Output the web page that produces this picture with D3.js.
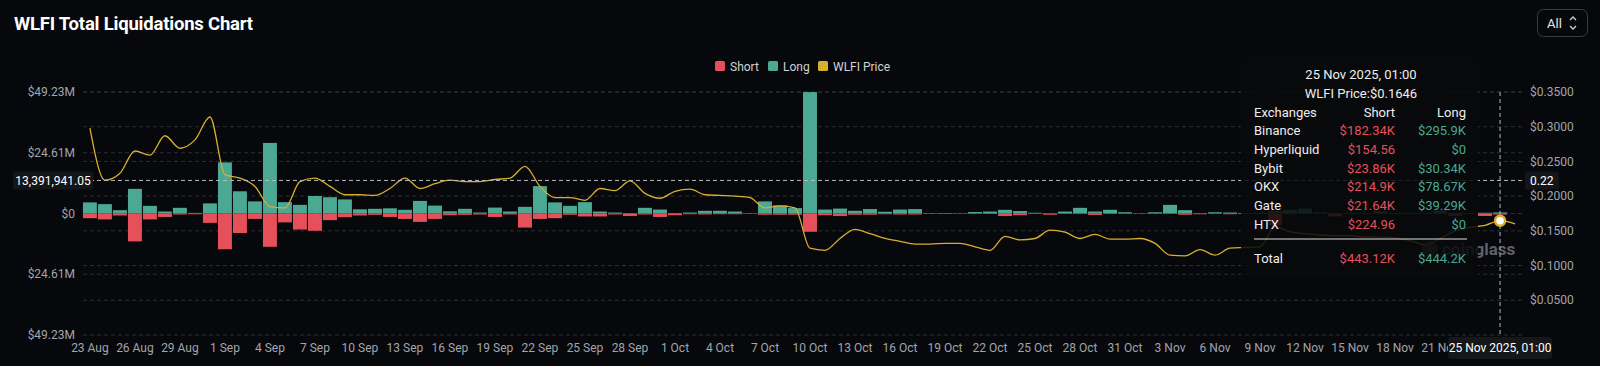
<!DOCTYPE html>
<html>
<head>
<meta charset="utf-8">
<script src="https://cdn.jsdelivr.net/npm/d3@7"></script>
<style>
  html, body { margin: 0; padding: 0; background: #07080b; }
  svg { display: block; font-family: Roboto, "Noto Sans", sans-serif; }
</style>
</head>
<body>
<div id="chart"></div>
<script>
// liquidations in $M, one bar per day from 23 Aug to 25 Nov 2025
var longVals = [4.5, 3.8, 1.35, 10.0, 3.1, 0.8, 2.3, 0.25, 4.1, 20.7,
  9.0, 4.9, 28.6, 4.6, 3.5, 7.1, 6.6, 5.7, 1.7, 1.9,
  2.1, 1.5, 5.1, 3.2, 0.9, 1.9, 0.4, 2.4, 0.8, 2.7,
  11.1, 4.5, 3.1, 4.6, 0.8, 0.4, 0.15, 2.3, 1.6, 0.2,
  0.4, 1.1, 1.1, 0.8, 0.15, 4.9, 3.3, 2.2, 49.2, 1.6,
  2.0, 1.1, 1.8, 0.7, 1.6, 1.8, 0.15, 0.2, 0.1, 0.6,
  0.8, 1.5, 1.0, 0.3, 0.1, 0.8, 2.3, 0.8, 1.5, 0.5,
  0.1, 0.5, 3.5, 1.35, 0.1, 0.5, 0.4, 0.2, 0.3, 1.1,
  1.5, 2.0, 0.4, 0.2, 0.3, 0.2, 0.9, 0.2, 0.3, 0.2,
  1.2, 0.3, 0.2, 0.3, 0.44];
var shortVals = [1.9, 2.4, 0.8, 11.3, 2.4, 1.4, 0.4, 0.3, 3.8, 14.5,
  7.9, 2.2, 13.5, 3.6, 6.5, 7.0, 2.7, 1.5, 0.8, 0.55,
  1.4, 2.2, 3.4, 2.2, 0.7, 0.55, 0.4, 1.4, 0.4, 5.7,
  2.2, 1.9, 0.5, 1.2, 1.2, 0.4, 1.0, 0.4, 1.4, 0.7,
  0.3, 0.4, 0.3, 0.3, 0.1, 0.5, 0.5, 0.5, 7.4, 0.7,
  1.0, 0.5, 0.5, 0.3, 0.4, 0.4, 0.1, 0.1, 0.1, 0.1,
  0.2, 1.0, 0.7, 0.1, 0.5, 0.1, 0.1, 0.6, 0.1, 0.1,
  0.1, 0.1, 0.1, 0.5, 0.3, 0.1, 0.3, 0.2, 0.2, 4.7,
  0.3, 0.1, 0.2, 1.2, 0.2, 0.1, 0.1, 0.2, 0.1, 0.2,
  0.1, 1.0, 0.2, 1.0, 0.44];
// WLFI price, one point per day (last point is 26 Nov)
var price = [0.298, 0.223, 0.233, 0.265, 0.259, 0.287, 0.269, 0.281, 0.314, 0.231,
  0.226, 0.214, 0.185, 0.183, 0.221, 0.226, 0.214, 0.202, 0.202, 0.201,
  0.211, 0.226, 0.211, 0.218, 0.223, 0.221, 0.221, 0.224, 0.226, 0.243,
  0.214, 0.198, 0.198, 0.194, 0.211, 0.208, 0.222, 0.204, 0.197, 0.207,
  0.210, 0.202, 0.201, 0.200, 0.198, 0.183, 0.186, 0.183, 0.125, 0.122,
  0.139, 0.152, 0.146, 0.139, 0.135, 0.131, 0.131, 0.132, 0.132, 0.127,
  0.122, 0.142, 0.137, 0.139, 0.151, 0.148, 0.139, 0.145, 0.138, 0.138,
  0.139, 0.132, 0.115, 0.114, 0.123, 0.115, 0.125, 0.126, 0.127, 0.156,
  0.149, 0.146, 0.144, 0.143, 0.143, 0.141, 0.141, 0.140, 0.136, 0.130,
  0.139, 0.150, 0.155, 0.158, 0.1646, 0.160];

var xTickLabels = ["23 Aug", "26 Aug", "29 Aug", "1 Sep", "4 Sep", "7 Sep", "10 Sep", "13 Sep",
  "16 Sep", "19 Sep", "22 Sep", "25 Sep", "28 Sep", "1 Oct", "4 Oct", "7 Oct", "10 Oct",
  "13 Oct", "16 Oct", "19 Oct", "22 Oct", "25 Oct", "28 Oct", "31 Oct", "3 Nov", "6 Nov",
  "9 Nov", "12 Nov", "15 Nov", "18 Nov", "21 Nov"];
var leftTicks = [-49.23, -24.61, 0, 24.61, 49.23];
var rightTicks = [0.05, 0.10, 0.15, 0.20, 0.25, 0.30, 0.35];

// tooltip content
var tipDate = "25 Nov 2025, 01:00";
var tipPrice = "WLFI Price:$0.1646";
var exchanges = ["Binance", "Hyperliquid", "Bybit", "OKX", "Gate", "HTX"];
var tipShort = ["$182.34K", "$154.56", "$23.86K", "$214.9K", "$21.64K", "$224.96"];
var tipLong = ["$295.9K", "$0", "$30.34K", "$78.67K", "$39.29K", "$0"];
var tipTotal = ["$443.12K", "$444.2K"];
var hoverIndex = 94;
var hoverPrice = 0.1646;
var crossLeft = 13.39194105;
var crossRight = 0.22;

var w = 1600, h = 366;
var red = "#e5505a", green = "#4aa893", gold = "#d8ae2f";

var svg = d3.select("#chart").append("svg").attr("width", w).attr("height", h);
svg.append("rect").attr("width", w).attr("height", h).attr("fill", "#07080b");

var n = longVals.length;
var x = d3.scaleBand().domain(d3.range(n)).range([82.5, 1507.5]).paddingInner(0.07).paddingOuter(0.03);
var bw = x.bandwidth();
var xc = d3.scaleLinear().domain([0, n - 1]).range([x(0) + bw / 2, x(n - 1) + bw / 2]);
var yL = d3.scaleLinear().domain([-49.23, 49.23]).range([335, 92]);
var yR = d3.scaleLinear().domain([0, 0.35]).range([335, 92]);
var gx0 = 83, gx1 = 1522;
var dateBoxX = xc(hoverIndex) - 52;

// title
svg.append("text").attr("x", 14).attr("y", 30).text("WLFI Total Liquidations Chart")
  .attr("fill", "#fff").attr("font-size", 18.5).attr("font-weight", 700).attr("letter-spacing", -0.2);

// "All" selector
var sel = svg.append("g");
sel.append("rect").attr("x", 1537.5).attr("y", 9.5).attr("width", 50).attr("height", 27).attr("rx", 6)
  .attr("fill", "none").attr("stroke", "#3a3c41");
sel.append("text").attr("x", 1547).attr("y", 28).text("All").attr("fill", "#e6e6e6").attr("font-size", 13);
sel.append("path").attr("d", "M1570,20 l3,-3 l3,3 M1570,26 l3,3 l3,-3")
  .attr("fill", "none").attr("stroke", "#cfcfcf").attr("stroke-width", 1.3);

// legend
var legend = [{ k: "Short", c: red, x: 715 }, { k: "Long", c: green, x: 768 }, { k: "WLFI Price", c: gold, x: 818 }];
var lg = svg.selectAll(".lg").data(legend).enter().append("g").attr("transform", function(d) { return "translate(" + d.x + ",61)"; });
lg.append("rect").attr("width", 10).attr("height", 10).attr("rx", 1.5).attr("fill", function(d) { return d.c; });
lg.append("text").attr("x", 15).attr("y", 9.5).text(function(d) { return d.k; })
  .attr("fill", "#d0d2d6").attr("font-size", 12);

// grid lines
var grid = svg.append("g").attr("stroke", "#2c2e33").attr("stroke-dasharray", "4,3");
grid.selectAll(".gl").data(leftTicks).enter().append("line")
  .attr("x1", gx0).attr("x2", gx1).attr("y1", function(d) { return yL(d); }).attr("y2", function(d) { return yL(d); });
grid.selectAll(".gr").data(rightTicks).enter().append("line")
  .attr("x1", gx0).attr("x2", gx1).attr("y1", function(d) { return yR(d); }).attr("y2", function(d) { return yR(d); });

// left axis labels
svg.selectAll(".ll").data(leftTicks).enter().append("text")
  .attr("x", 75).attr("y", function(d) { return yL(d); }).attr("dy", "0.35em")
  .attr("text-anchor", "end").attr("fill", "#a2a5ab").attr("font-size", 12)
  .text(function(d) { return d === 0 ? "$0" : "$" + Math.abs(d).toFixed(2) + "M"; });

// right axis labels
svg.selectAll(".rl").data(rightTicks).enter().append("text")
  .attr("x", 1530).attr("y", function(d) { return yR(d); }).attr("dy", "0.35em")
  .attr("fill", "#a2a5ab").attr("font-size", 12)
  .text(function(d) { return "$" + d.toFixed(4); });

// x labels, cut off where the hover date box starts
svg.append("clipPath").attr("id", "xclip").append("rect")
  .attr("x", 0).attr("y", 330).attr("width", dateBoxX).attr("height", 36);
svg.append("g").attr("clip-path", "url(#xclip)")
  .selectAll(".xl").data(xTickLabels).enter().append("text")
  .attr("x", function(d, i) { return xc(i * 3); }).attr("y", 352)
  .attr("text-anchor", "middle").attr("fill", "#a2a5ab").attr("font-size", 12)
  .text(function(d) { return d; });

// bars
svg.selectAll(".long").data(longVals).enter().append("rect")
  .attr("x", function(d, i) { return x(i); }).attr("width", bw)
  .attr("y", function(d) { return yL(d); }).attr("height", function(d) { return yL(0) - yL(d); })
  .attr("fill", green);
svg.selectAll(".short").data(shortVals).enter().append("rect")
  .attr("x", function(d, i) { return x(i); }).attr("width", bw)
  .attr("y", yL(0)).attr("height", function(d) { return yL(0) - yL(d); })
  .attr("fill", red);

// price line
var line = d3.line().x(function(d, i) { return xc(i); }).y(function(d) { return yR(d); }).curve(d3.curveMonotoneX);
svg.append("path").datum(price).attr("d", line).attr("fill", "none")
  .attr("stroke", gold).attr("stroke-width", 1.3);

// crosshair
var cross = svg.append("g").attr("stroke", "#b8babe").attr("stroke-dasharray", "4,3");
cross.append("line").attr("x1", gx0).attr("x2", gx1).attr("y1", yL(crossLeft)).attr("y2", yL(crossLeft));
cross.append("line").attr("x1", xc(hoverIndex)).attr("x2", xc(hoverIndex)).attr("y1", yR(0.35)).attr("y2", yR(0));

svg.append("rect").attr("x", 13).attr("y", yL(crossLeft) - 9).attr("width", 80).attr("height", 18).attr("rx", 2).attr("fill", "#141519");
svg.append("text").attr("x", 53).attr("y", yL(crossLeft)).attr("dy", "0.35em").attr("text-anchor", "middle")
  .attr("fill", "#fff").attr("font-size", 12).text(d3.format(",.2f")(crossLeft * 1e6));
svg.append("rect").attr("x", 1525).attr("y", yL(crossLeft) - 9).attr("width", 34).attr("height", 18).attr("rx", 2).attr("fill", "#141519");
svg.append("text").attr("x", 1530).attr("y", yL(crossLeft)).attr("dy", "0.35em")
  .attr("fill", "#fff").attr("font-size", 12).text(crossRight.toFixed(2));

// hovered point
svg.append("circle").attr("cx", xc(hoverIndex)).attr("cy", yR(hoverPrice)).attr("r", 5)
  .attr("fill", "#fff").attr("stroke", gold).attr("stroke-width", 2.5);

// bottom date label
svg.append("rect").attr("x", dateBoxX).attr("y", 337).attr("width", 104).attr("height", 22).attr("rx", 3).attr("fill", "#16171b");
svg.append("text").attr("x", xc(hoverIndex)).attr("y", 352).attr("text-anchor", "middle")
  .attr("fill", "#fff").attr("font-size", 12).text(tipDate);

// watermark
var wm = svg.append("g").attr("opacity", 0.7);
wm.append("circle").attr("cx", 1430).attr("cy", 249).attr("r", 8).attr("fill", "#55575c");
wm.append("text").attr("x", 1442).attr("y", 255).text("coinglass")
  .attr("fill", "#85878c").attr("font-size", 17).attr("font-weight", 700);

// tooltip
var tip = svg.append("g");
tip.append("rect").attr("x", 1241).attr("y", 57).attr("width", 237).attr("height", 220).attr("rx", 4)
  .attr("fill", "rgba(8,9,12,0.86)");
tip.append("text").attr("x", 1361).attr("y", 74).attr("dy", "0.35em").attr("text-anchor", "middle")
  .attr("fill", "#eee").attr("font-size", 13).text(tipDate);
tip.append("text").attr("x", 1361).attr("y", 93).attr("dy", "0.35em").attr("text-anchor", "middle")
  .attr("fill", "#eee").attr("font-size", 13).text(tipPrice);
var hdrY = 112, rowH = 18.7;
tip.append("text").attr("x", 1254).attr("y", hdrY).attr("dy", "0.35em").attr("fill", "#eee").attr("font-size", 13).text("Exchanges");
tip.append("text").attr("x", 1395).attr("y", hdrY).attr("dy", "0.35em").attr("text-anchor", "end").attr("fill", "#eee").attr("font-size", 13).text("Short");
tip.append("text").attr("x", 1466).attr("y", hdrY).attr("dy", "0.35em").attr("text-anchor", "end").attr("fill", "#eee").attr("font-size", 13).text("Long");
exchanges.forEach(function(e, i) {
  var yy = hdrY + rowH * (i + 1);
  tip.append("text").attr("x", 1254).attr("y", yy).attr("dy", "0.35em").attr("fill", "#eee").attr("font-size", 13).text(e);
  tip.append("text").attr("x", 1395).attr("y", yy).attr("dy", "0.35em").attr("text-anchor", "end").attr("fill", red).attr("font-size", 13).text(tipShort[i]);
  tip.append("text").attr("x", 1466).attr("y", yy).attr("dy", "0.35em").attr("text-anchor", "end").attr("fill", green).attr("font-size", 13).text(tipLong[i]);
});
tip.append("line").attr("x1", 1254).attr("x2", 1467).attr("y1", 239).attr("y2", 239).attr("stroke", "#ddd").attr("stroke-width", 1.2);
tip.append("text").attr("x", 1254).attr("y", 258).attr("dy", "0.35em").attr("fill", "#eee").attr("font-size", 13).text("Total");
tip.append("text").attr("x", 1395).attr("y", 258).attr("dy", "0.35em").attr("text-anchor", "end").attr("fill", red).attr("font-size", 13).text(tipTotal[0]);
tip.append("text").attr("x", 1466).attr("y", 258).attr("dy", "0.35em").attr("text-anchor", "end").attr("fill", green).attr("font-size", 13).text(tipTotal[1]);
</script>
</body>
</html>
